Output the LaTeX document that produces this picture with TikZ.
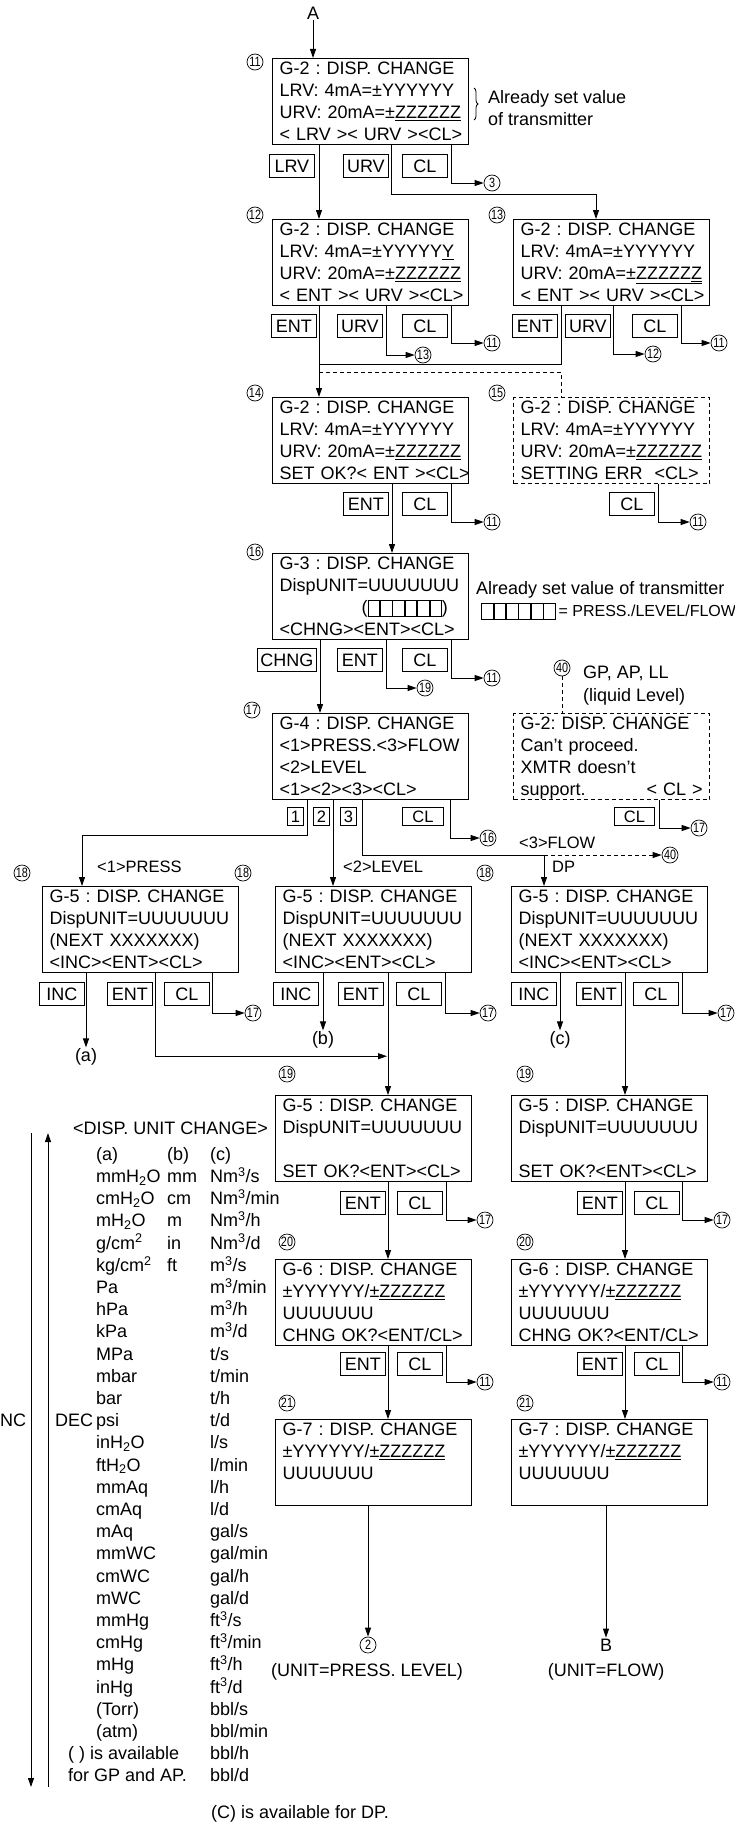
\documentclass[tikz,border=0pt]{standalone}
\usepackage{fontspec}
\setmainfont{Liberation Sans}
\usepackage{graphicx}
\usetikzlibrary{arrows.meta,calc,decorations.pathreplacing}
\frenchspacing
\newcommand{\dispfont}{\fontsize{18}{22}\selectfont\lineskiplimit=-30pt\relax}
\newcommand{\lcdstrut}{\rule[-4pt]{0pt}{20pt}}
\newcommand{\fourlines}[4]{\lcdstrut\mbox{#1}\\\lcdstrut\mbox{#2}\\\lcdstrut\mbox{#3}\\\lcdstrut\mbox{#4}}
\newcommand{\tagnum}[1]{\scalebox{0.8}[1]{#1}}
\newcommand{\onecell}{\raisebox{-2pt}{\setlength{\fboxsep}{0pt}\setlength{\fboxrule}{0.7pt}\fbox{\rule{0pt}{15pt}\hspace{11pt}}}}
\newcommand{\cellrow}{\onecell\onecell\onecell\onecell\onecell\onecell}
\newcommand{\lrvline}{LRV: 4mA=±YYYYYY}
\newcommand{\urvline}{URV: 20mA=±\underline{ZZZZZZ}}
\newcommand{\rangeline}{±YYYYYY/±\underline{ZZZZZZ}}
\begin{document}
\begin{tikzpicture}[x=1pt,y=-1pt,
 >={Triangle[length=9pt,width=6pt]},
 dispbox/.style={draw,line width=1.2pt,anchor=north west,text width=182pt,inner xsep=7pt,inner ysep=0pt,align=left,font=\dispfont},
 errbox/.style={dispbox,dash pattern=on 4pt off 3pt},
 softkey/.style={draw,line width=0.8pt,anchor=north west,minimum width=45pt,minimum height=23pt,inner xsep=3pt,inner ysep=0pt,text height=13pt,text depth=0pt,font=\dispfont},
 digitkey/.style={softkey,minimum width=16pt,minimum height=18pt,text height=12pt,font=\fontsize{16.5}{16.5}\selectfont},
 numtag/.style={circle,draw,line width=0.7pt,inner sep=0pt,minimum size=16pt,font=\fontsize{13.5}{13.5}\selectfont},
 note/.style={inner sep=1pt,font=\dispfont},
 smallnote/.style={inner sep=1pt,font=\fontsize{16.5}{18}\selectfont},
 flowline/.style={line width=0.9pt},
 dashline/.style={flowline,dash pattern=on 4pt off 3pt},
]
\useasboundingbox (0,0) rectangle (735,1822);

\node[dispbox] (b11) at (272,58) {\fourlines{G-2 : DISP. CHANGE}{\lrvline}{\urvline}{< LRV >< URV ><CL>}};
\node[dispbox] (b12) at (272,219) {\fourlines{G-2 : DISP. CHANGE}{LRV: 4mA=±YYYYY\underline{Y}}{\urvline}{< ENT >< URV ><CL>}};
\node[dispbox] (b13) at (513,219) {\fourlines{G-2 : DISP. CHANGE}{\lrvline}{URV: 20mA=±\underline{ZZZZZ\underline{Z}}}{< ENT >< URV ><CL>}};
\node[dispbox] (b14) at (272,397) {\fourlines{G-2 : DISP. CHANGE}{\lrvline}{\urvline}{SET OK?< ENT ><CL>}};
\node[errbox] (b15) at (513,397) {\fourlines{G-2 : DISP. CHANGE}{\lrvline}{\urvline}{SETTING ERR\ \ <CL>}};
\node[dispbox] (b16) at (272,553) {\fourlines{G-3 : DISP. CHANGE}{DispUNIT=UUUUUUU}{\hspace*{82pt}(\cellrow)}{<CHNG><ENT><CL>}};
\node[dispbox] (b17) at (272,713) {\fourlines{G-4 : DISP. CHANGE}{<1>PRESS.<3>FLOW}{<2>LEVEL}{<1><2><3><CL>}};
\node[errbox] (b40) at (513,713) {\fourlines{G-2: DISP. CHANGE}{Can't proceed.}{XMTR doesn't}{\makebox[182pt][l]{support.\hfill< CL >}}};
\node[dispbox] (b18a) at (42,886) {\fourlines{G-5 : DISP. CHANGE}{DispUNIT=UUUUUUU}{(NEXT XXXXXXX)}{<INC><ENT><CL>}};
\node[dispbox] (b18b) at (275,886) {\fourlines{G-5 : DISP. CHANGE}{DispUNIT=UUUUUUU}{(NEXT XXXXXXX)}{<INC><ENT><CL>}};
\node[dispbox] (b18c) at (511,886) {\fourlines{G-5 : DISP. CHANGE}{DispUNIT=UUUUUUU}{(NEXT XXXXXXX)}{<INC><ENT><CL>}};
\node[dispbox] (b19a) at (275,1095) {\fourlines{G-5 : DISP. CHANGE}{DispUNIT=UUUUUUU}{}{SET OK?<ENT><CL>}};
\node[dispbox] (b19b) at (511,1095) {\fourlines{G-5 : DISP. CHANGE}{DispUNIT=UUUUUUU}{}{SET OK?<ENT><CL>}};
\node[dispbox] (b20a) at (275,1259) {\fourlines{G-6 : DISP. CHANGE}{\rangeline}{UUUUUUU}{CHNG OK?<ENT/CL>}};
\node[dispbox] (b20b) at (511,1259) {\fourlines{G-6 : DISP. CHANGE}{\rangeline}{UUUUUUU}{CHNG OK?<ENT/CL>}};
\node[dispbox] (b21a) at (275,1419) {\fourlines{G-7 : DISP. CHANGE}{\rangeline}{UUUUUUU}{}};
\node[dispbox] (b21b) at (511,1419) {\fourlines{G-7 : DISP. CHANGE}{\rangeline}{UUUUUUU}{}};

\node[softkey] (k11lrv) at (269,154) {LRV};
\node[softkey] (k11urv) at (343,154) {URV};
\node[softkey] (k11cl) at (402,154) {CL};
\node[softkey] (k12ent) at (271,314) {ENT};
\node[softkey] (k12urv) at (337,314) {URV};
\node[softkey] (k12cl) at (402,314) {CL};
\node[softkey] (k13ent) at (512,314) {ENT};
\node[softkey] (k13urv) at (565,314) {URV};
\node[softkey] (k13cl) at (632,314) {CL};
\node[softkey] (k14ent) at (343,492) {ENT};
\node[softkey] (k14cl) at (402,492) {CL};
\node[softkey] (k15cl) at (609,492) {CL};
\node[softkey] (k16chng) at (257,648) {CHNG};
\node[softkey] (k16ent) at (337,648) {ENT};
\node[softkey] (k16cl) at (402,648) {CL};
\node[digitkey] (k17one) at (287,807) {1};
\node[digitkey] (k17two) at (313,807) {2};
\node[digitkey] (k17three) at (340,807) {3};
\node[digitkey,minimum width=41pt] (k17cl) at (402,807) {CL};
\node[digitkey,minimum width=40pt] (k40cl) at (614,807) {CL};
\node[softkey] (k18ainc) at (39,982) {INC};
\node[softkey] (k18aent) at (107,982) {ENT};
\node[softkey] (k18acl) at (164,982) {CL};
\node[softkey] (k18binc) at (273,982) {INC};
\node[softkey] (k18bent) at (338,982) {ENT};
\node[softkey] (k18bcl) at (396,982) {CL};
\node[softkey] (k18cinc) at (511,982) {INC};
\node[softkey] (k18cent) at (576,982) {ENT};
\node[softkey] (k18ccl) at (633,982) {CL};
\node[softkey] (k19aent) at (340,1191) {ENT};
\node[softkey] (k19acl) at (397,1191) {CL};
\node[softkey] (k19bent) at (577,1191) {ENT};
\node[softkey] (k19bcl) at (634,1191) {CL};
\node[softkey] (k20aent) at (340,1352) {ENT};
\node[softkey] (k20acl) at (397,1352) {CL};
\node[softkey] (k20bent) at (577,1352) {ENT};
\node[softkey] (k20bcl) at (634,1352) {CL};

\node[numtag] (l11) at (255,62) {\tagnum{11}};
\node[numtag] (l12) at (255,215) {\tagnum{12}};
\node[numtag] (l13) at (497,215) {\tagnum{13}};
\node[numtag] (l14) at (255,393) {\tagnum{14}};
\node[numtag] (l15) at (497,393) {\tagnum{15}};
\node[numtag] (l16) at (255,552) {\tagnum{16}};
\node[numtag] (l17) at (252,710) {\tagnum{17}};
\node[numtag] (n40) at (562,668) {\tagnum{40}};
\node[numtag] (l18a) at (22,873) {\tagnum{18}};
\node[numtag] (l18b) at (243,873) {\tagnum{18}};
\node[numtag] (l18c) at (485,873) {\tagnum{18}};
\node[numtag] (l19a) at (287,1074) {\tagnum{19}};
\node[numtag] (l19b) at (525,1074) {\tagnum{19}};
\node[numtag] (l20a) at (287,1242) {\tagnum{20}};
\node[numtag] (l20b) at (525,1242) {\tagnum{20}};
\node[numtag] (l21a) at (287,1403) {\tagnum{21}};
\node[numtag] (l21b) at (525,1403) {\tagnum{21}};
\node[numtag] (t3) at (492,183) {\tagnum{3}};
\node[numtag] (t13b) at (423,355) {\tagnum{13}};
\node[numtag] (t11b) at (492,343) {\tagnum{11}};
\node[numtag] (t12b) at (653,354) {\tagnum{12}};
\node[numtag] (t11c) at (719,343) {\tagnum{11}};
\node[numtag] (t11d) at (492,522) {\tagnum{11}};
\node[numtag] (t11e) at (698,522) {\tagnum{11}};
\node[numtag] (t19a) at (425,688) {\tagnum{19}};
\node[numtag] (t11f) at (492,678) {\tagnum{11}};
\node[numtag] (t16b) at (488,838) {\tagnum{16}};
\node[numtag] (t17a) at (699,828) {\tagnum{17}};
\node[numtag] (t40b) at (670,855) {\tagnum{40}};
\node[numtag] (t17b) at (253,1013) {\tagnum{17}};
\node[numtag] (t17c) at (488,1013) {\tagnum{17}};
\node[numtag] (t17d) at (726,1013) {\tagnum{17}};
\node[numtag] (t17e) at (485,1220) {\tagnum{17}};
\node[numtag] (t17f) at (722,1220) {\tagnum{17}};
\node[numtag] (t11g) at (485,1382) {\tagnum{11}};
\node[numtag] (t11h) at (722,1382) {\tagnum{11}};
\node[numtag] (end2) at (368,1645) {\tagnum{2}};

\node[note] (startA) at (313,13) {A};
\node[note,anchor=base west] (setval1) at (487,104) {Already set value};
\node[note,anchor=base west] (setval2) at (487,126) {of transmitter};
\node[note,anchor=base west] (setval3) at (475,594.5) {Already set value of transmitter};
\node[note,anchor=base west] (unitkinds) at (480,616.5) {\cellrow\,{\fontsize{16}{18}\selectfont= PRESS./LEVEL/FLOW}};
\node[note,anchor=base west] (gpnote1) at (582,678.5) {GP, AP, LL};
\node[note,anchor=base west] (gpnote2) at (582,701.5) {(liquid Level)};
\node[smallnote,anchor=base west] (flow3) at (518,848) {<3>FLOW};
\node[smallnote,anchor=base west] (press1) at (96,872) {<1>PRESS};
\node[smallnote,anchor=base west] (level2) at (342,872) {<2>LEVEL};
\node[smallnote,anchor=base west] (dpnote) at (551,872) {DP};
\node[note] (inca) at (86,1057) {(a)};
\node[note] (incb) at (323,1040) {(b)};
\node[note] (incc) at (560,1040) {(c)};
\node[note] (endB) at (606,1645) {B};
\node[note] (unit1) at (367,1672) {(UNIT=PRESS. LEVEL)};
\node[note] (unit2) at (606,1672) {(UNIT=FLOW)};

\node[note,anchor=base west] (unittitle) at (72,1134.5) {<DISP. UNIT CHANGE>};
\node[note,anchor=base west] (hda) at (95,1160.3) {(a)};
\node[note,anchor=base west] (hdb) at (166,1160.3) {(b)};
\node[note,anchor=base west] (hdc) at (209,1160.3) {(c)};
\foreach \u [count=\i from 0] in {mmH\textsubscript{2}O,cmH\textsubscript{2}O,mH\textsubscript{2}O,g/cm\textsuperscript{2},kg/cm\textsuperscript{2},Pa,hPa,kPa,MPa,mbar,bar,psi,inH\textsubscript{2}O,ftH\textsubscript{2}O,mmAq,cmAq,mAq,mmWC,cmWC,mWC,mmHg,cmHg,mHg,inHg,(Torr),(atm)}
  \node[note,anchor=base west] (ua\i) at (95,{1182.5+22.2*\i}) {\u};
\foreach \u [count=\i from 0] in {mm,cm,m,in,ft}
  \node[note,anchor=base west] (ub\i) at (166,{1182.5+22.2*\i}) {\u};
\foreach \u [count=\i from 0] in {Nm\textsuperscript{3}/s,Nm\textsuperscript{3}/min,Nm\textsuperscript{3}/h,Nm\textsuperscript{3}/d,m\textsuperscript{3}/s,m\textsuperscript{3}/min,m\textsuperscript{3}/h,m\textsuperscript{3}/d,t/s,t/min,t/h,t/d,l/s,l/min,l/h,l/d,gal/s,gal/min,gal/h,gal/d,ft\textsuperscript{3}/s,ft\textsuperscript{3}/min,ft\textsuperscript{3}/h,ft\textsuperscript{3}/d,bbl/s,bbl/min,bbl/h,bbl/d}
  \node[note,anchor=base west] (uc\i) at (209,{1182.5+22.2*\i}) {\u};
\node[note,anchor=base west] (avail1) at (67,{1182.5+22.2*26}) {(\hspace{5pt}) is available};
\node[note,anchor=base west] (avail2) at (67,{1182.5+22.2*27}) {for GP and AP.};
\node[note,anchor=base west] (incnote) at (-1,1426.7) {NC};
\node[note,anchor=base west] (decnote) at (54,1426.7) {DEC};
\node[note,anchor=base west] (cnote) at (210,1818) {(C) is available for DP.};

\coordinate (braceTop) at (474,88);
\coordinate (braceBot) at (474,120);
\coordinate (incTop) at (31,1133);
\coordinate (incBot) at (31,1787);
\coordinate (decBot) at (48,1787);
\coordinate (decTop) at (48,1133);
\coordinate (dpfork) at ($(b18c.north west)+(33,-31)$);

\draw[line width=0.8pt,decorate,decoration={brace,amplitude=4pt}] (braceTop) -- (braceBot);
\draw[flowline,->] (incTop) -- (incBot);
\draw[flowline,->] (decBot) -- (decTop);

\draw[flowline,->] (startA) -- (startA |- b11.north);
\draw[flowline,->] ($(b11.south west)+(47,0)$) -- ($(b12.north west)+(47,0)$);
\draw[flowline,->] ($(b11.south west)+(119,0)$) -- ++(0,49) -| ($(b13.north west)+(83,0)$);
\draw[flowline,->] ($(b11.south west)+(179,0)$) |- (t3);

\draw[flowline,->] ($(b12.south west)+(47,0)$) -- ($(b14.north west)+(47,0)$);
\draw[flowline,->] ($(b12.south west)+(114,0)$) |- (t13b);
\draw[flowline,->] ($(b12.south west)+(179,0)$) |- (t11b);
\draw[flowline] ($(b13.south west)+(48,0)$) |- ($(b12.south west)+(47,58)$);
\draw[flowline,->] ($(b13.south west)+(100,0)$) |- (t12b);
\draw[flowline,->] ($(b13.south west)+(168,0)$) |- (t11c);
\draw[dashline] ($(b12.south west)+(47,66)$) -| ($(b15.north west)+(48,0)$);

\draw[flowline,->] ($(b14.south west)+(120,0)$) -- ($(b16.north west)+(120,0)$);
\draw[flowline,->] ($(b14.south west)+(179,0)$) |- (t11d);
\draw[flowline,->] ($(b15.south west)+(145,0)$) |- (t11e);

\draw[flowline,->] ($(b16.south west)+(48,0)$) -- ($(b17.north west)+(48,0)$);
\draw[flowline,->] ($(b16.south west)+(114,0)$) |- (t19a);
\draw[flowline,->] ($(b16.south west)+(179,0)$) |- (t11f);
\draw[dashline] (n40) -- (n40 |- b40.north);

\draw[flowline,->] ($(b17.south west)+(35,0)$) -- ++(0,35) -| ($(b18a.north west)+(40,0)$);
\draw[flowline,->] ($(b17.south west)+(61,0)$) -- ($(b18b.north west)+(58,0)$);
\draw[flowline] ($(b17.south west)+(90,0)$) |- (dpfork);
\draw[flowline,->] (dpfork) -- ($(b18c.north west)+(33,0)$);
\draw[dashline,->] (dpfork) -- (t40b);
\draw[flowline,->] ($(b17.south west)+(178,0)$) |- (t16b);
\draw[flowline,->] ($(b40.south west)+(146,0)$) |- (t17a);

\draw[flowline,->] ($(b18a.south west)+(44,0)$) -- (inca);
\draw[flowline,->] ($(b18a.south west)+(113,0)$) |- ($(b18b.south west)+(112,83)$);
\draw[flowline,->] ($(b18a.south west)+(170,0)$) |- (t17b);
\draw[flowline,->] ($(b18b.south west)+(48,0)$) -- (incb);
\draw[flowline,->] ($(b18b.south west)+(113,0)$) -- ($(b19a.north west)+(113,0)$);
\draw[flowline,->] ($(b18b.south west)+(170,0)$) |- (t17c);
\draw[flowline,->] ($(b18c.south west)+(49,0)$) -- (incc);
\draw[flowline,->] ($(b18c.south west)+(114,0)$) -- ($(b19b.north west)+(114,0)$);
\draw[flowline,->] ($(b18c.south west)+(171,0)$) |- (t17d);

\draw[flowline,->] ($(b19a.south west)+(113,0)$) -- ($(b20a.north west)+(113,0)$);
\draw[flowline,->] ($(b19a.south west)+(171,0)$) |- (t17e);
\draw[flowline,->] ($(b19b.south west)+(114,0)$) -- ($(b20b.north west)+(114,0)$);
\draw[flowline,->] ($(b19b.south west)+(171,0)$) |- (t17f);
\draw[flowline,->] ($(b20a.south west)+(113,0)$) -- ($(b21a.north west)+(113,0)$);
\draw[flowline,->] ($(b20a.south west)+(171,0)$) |- (t11g);
\draw[flowline,->] ($(b20b.south west)+(114,0)$) -- ($(b21b.north west)+(114,0)$);
\draw[flowline,->] ($(b20b.south west)+(171,0)$) |- (t11h);
\draw[flowline,->] ($(b21a.south west)+(93,0)$) -- (end2);
\draw[flowline,->] ($(b21b.south west)+(95,0)$) -- (endB);
\end{tikzpicture}
\end{document}
